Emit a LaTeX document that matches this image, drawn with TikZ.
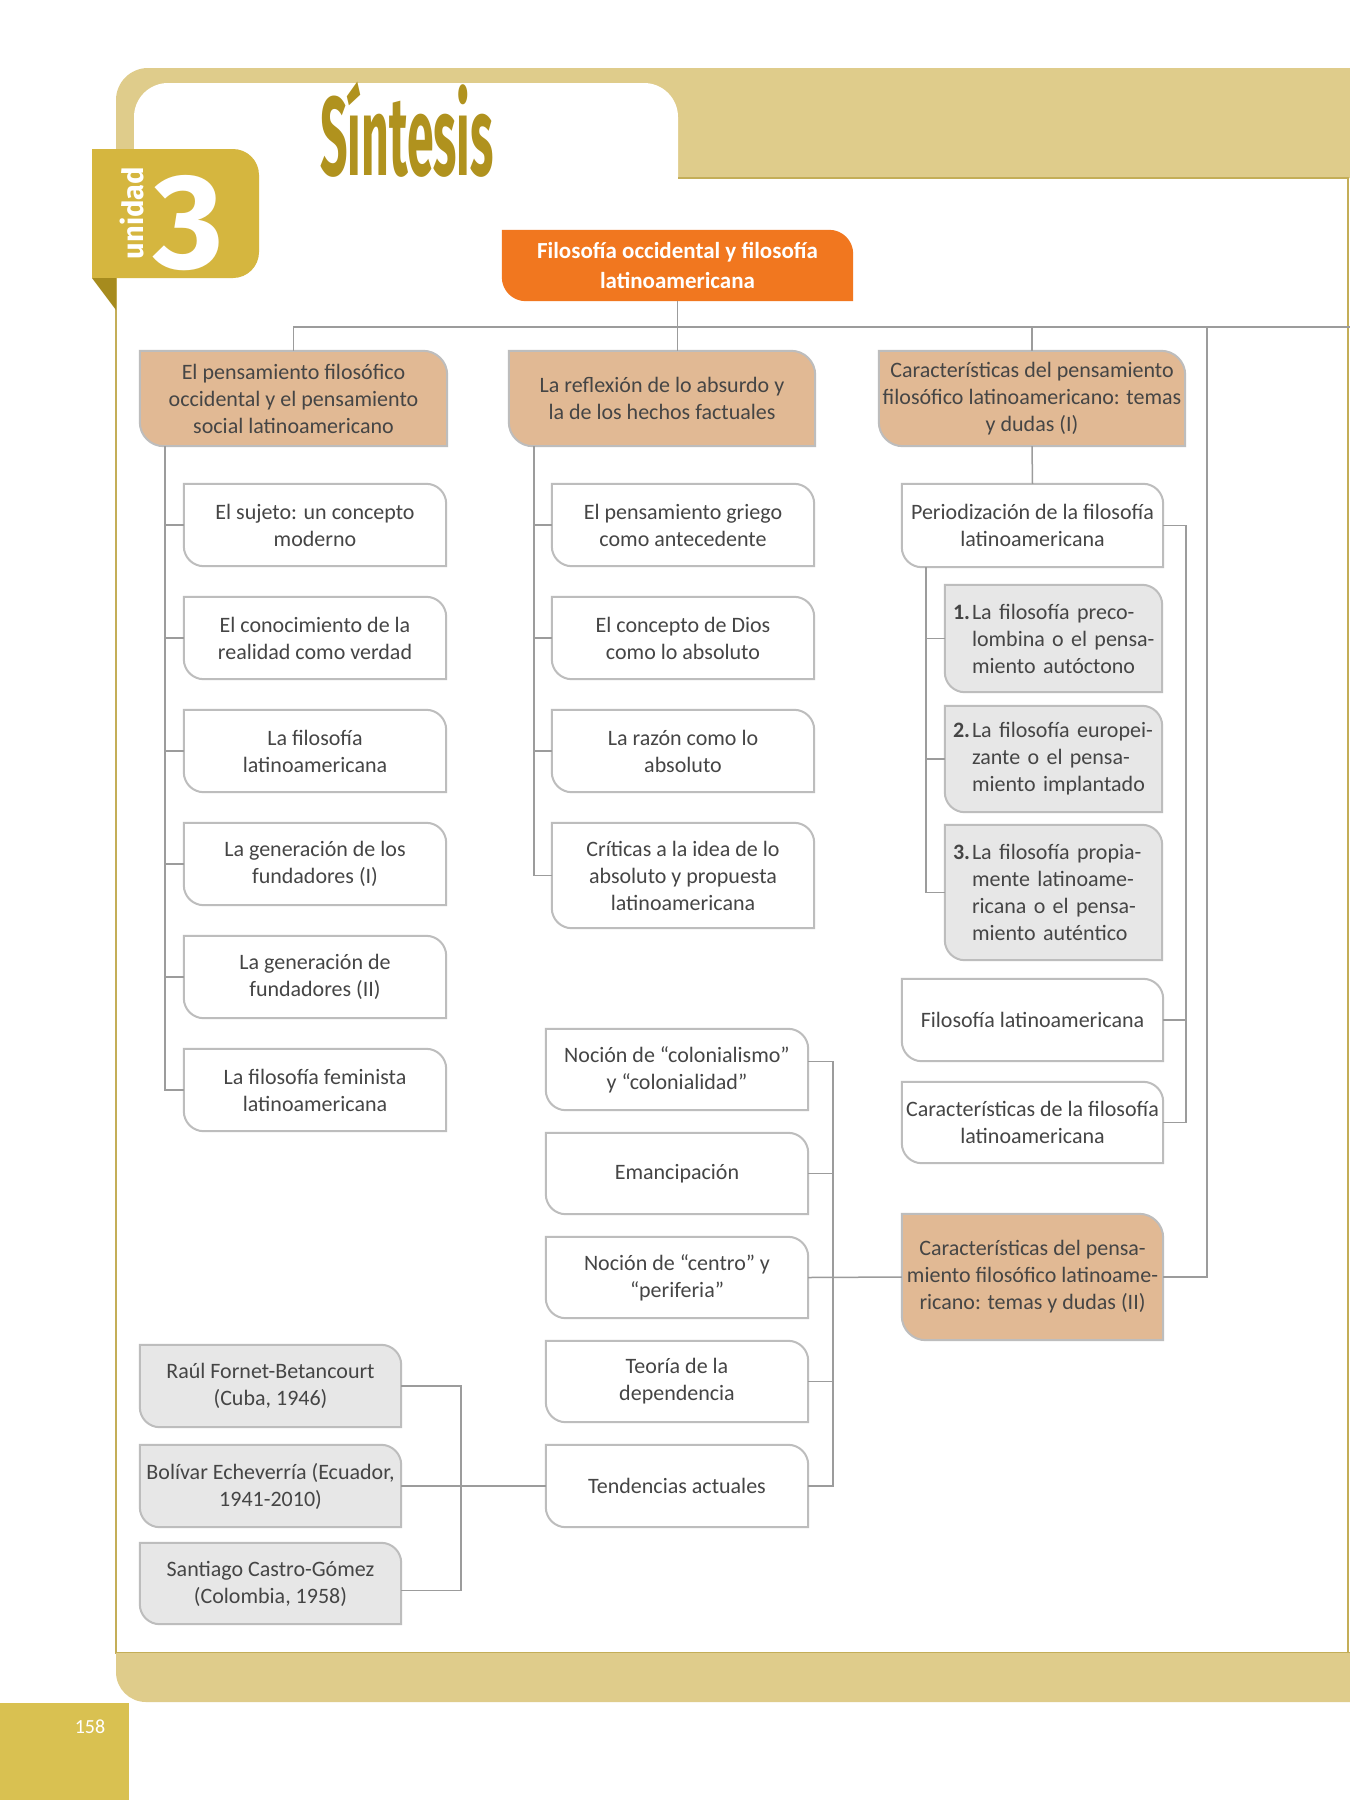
\documentclass[tikz,border=0pt]{standalone}
\usepackage{graphicx}
\usepackage{fontspec}
\setmainfont{Carlito}
\newfontfamily\titlefont{Fira Sans}
\usetikzlibrary{calc}
\pgfdeclarelayer{bg}
\pgfsetlayers{bg,main}
\definecolor{band}{HTML}{DFCC8B}
\definecolor{badge}{HTML}{D5B63F}
\definecolor{fold}{HTML}{A68B1E}
\definecolor{titlecol}{HTML}{B0921E}
\definecolor{framecol}{HTML}{C4AE58}
\definecolor{pagebox}{HTML}{D9C151}
\definecolor{orangec}{HTML}{F1771F}
\definecolor{tanc}{HTML}{E1B994}
\definecolor{grayc}{HTML}{E7E7E7}
\definecolor{linec}{HTML}{9C9C9C}
\definecolor{borderc}{HTML}{BDBDBD}
\definecolor{txt}{HTML}{454545}
\newcommand\leafbox[3][20]{%
 \path[#3] (#2.north west) -- ($(#2.north east)+(-#1,0)$)
 .. controls ($(#2.north east)+({-0.448*#1},0)$) and ($(#2.north east)+(0,{0.448*#1})$) .. ($(#2.north east)+(0,#1)$)
 -- (#2.south east) -- ($(#2.south west)+(#1,0)$)
 .. controls ($(#2.south west)+({0.448*#1},0)$) and ($(#2.south west)+(0,{-0.448*#1})$) .. ($(#2.south west)+(0,-#1)$)
 -- cycle;}
\newcommand\numline[2]{\mbox{\makebox[19pt][l]{\textbf{#1}}#2}}
\newcommand\hangline[1]{\mbox{\hspace*{19pt}#1}}
\begin{document}
\begin{tikzpicture}[x=1pt,y=-1pt,
 conn/.style={draw=linec, line width=1.5pt},
 every node/.style={text=txt, font=\fontsize{22}{27}\selectfont, inner sep=0pt, align=center},
 span/.style n args={4}{minimum width={(#3)-(#1)}, minimum height={(#4)-(#2)}, at={({((#1)+(#3))/2},{((#2)+(#4))/2})}},
 wshape/.style={fill=white, draw=borderc, line width=2pt},
 tshape/.style={fill=tanc, draw=borderc, line width=2pt},
 gshape/.style={fill=grayc, draw=borderc, line width=2pt},
 oshape/.style={fill=orangec},
 frameline/.style={draw=framecol, line width=1.5pt},
 numitem/.style={align=left, text width=201pt, inner xsep=8pt}]
\useasboundingbox (0,0) rectangle (1350,1800);
% ---------- page frame ----------
\begin{pgfonlayer}{bg}
\fill[white] (0,0) rectangle (1350,1800);
\fill[band, rounded corners=32] (116,240) -- (116,68) -- (1400,68) -- (1400,178) -- (134,178) -- (134,240);
\fill[white, rounded corners=34] (134,240) -- (134,83) -- (678,83) -- (678,240);
\draw[frameline] (678,178) -- (1348,178) -- (1348,1653);
\draw[frameline] (116,278) -- (116,1653) -- (1350,1653);
\fill[band, rounded corners=30] (116,1653) -- (116,1702) -- (1400,1702) -- (1400,1653);
\fill[badge, rounded corners=26] (92,149) -- (259,149) -- (259,278) -- (92,278);
\fill[fold] (92,278) -- (116,278) -- (116,310) -- cycle;
\fill[pagebox] (0,1703) rectangle (129,1800);
\end{pgfonlayer}
% ---------- titles ----------
\node[text=titlecol, font=\titlefont\bfseries\fontsize{112}{112}\selectfont, anchor=base] (title) at (407,175) {\scalebox{0.43}[1]{Síntesis}};
\node[text=white, font=\titlefont\bfseries\fontsize{135}{135}\selectfont, anchor=base] (num) at (189,268) {3};
\node[text=white, font=\titlefont\bfseries\fontsize{29}{29}\selectfont, rotate=90] (unidad) at (132,213) {unidad};
\node[text=white, font=\fontsize{20}{20}\selectfont] (pg) at (90,1727) {158};
% ---------- nodes ----------
\node[span={502}{230}{853}{301}, text=white, font=\bfseries\fontsize{23}{30}\selectfont] (orange) {Filosofía occidental y filosofía\\latinoamericana};
\node[span={140}{351}{447}{446}] (hdr1) {El pensamiento filosófico\\occidental y el pensamiento\\social latinoamericano};
\node[span={509}{351}{815}{446}] (hdr2) {La reflexión de lo absurdo y\\la de los hechos factuales};
\node[span={879}{351}{1185}{446}] (hdr3) {Características del pensamiento\\filosófico latinoamericano: temas\\y dudas (I)};
\node[span={902}{1214}{1163}{1340}] (hdr4) {Características del pensa-\\miento filosófico latinoame-\\ricano: temas y dudas (II)};
\node[span={184}{484}{446}{566}] (c1a) {El sujeto: un concepto\\moderno};
\node[span={184}{597}{446}{679}] (c1b) {El conocimiento de la\\realidad como verdad};
\node[span={184}{710}{446}{792}] (c1c) {La filosofía\\latinoamericana};
\node[span={184}{823}{446}{905}] (c1d) {La generación de los\\fundadores (I)};
\node[span={184}{936}{446}{1018}] (c1e) {La generación de\\fundadores (II)};
\node[span={184}{1049}{446}{1131}] (c1f) {La filosofía feminista\\latinoamericana};
\node[span={552}{484}{814}{566}] (c2a) {El pensamiento griego\\como antecedente};
\node[span={552}{597}{814}{679}] (c2b) {El concepto de Dios\\como lo absoluto};
\node[span={552}{710}{814}{792}] (c2c) {La razón como lo\\absoluto};
\node[span={552}{823}{814}{928}] (c2d) {Críticas a la idea de lo\\absoluto y propuesta\\latinoamericana};
\node[span={902}{484}{1163}{567}] (per) {Periodización de la filosofía\\latinoamericana};
\node[span={945}{585}{1162}{692}, numitem] (p1) {\numline{1.}{La filosofía preco-}\\\hangline{lombina o el pensa-}\\\hangline{miento autóctono}};
\node[span={945}{706}{1162}{812}, numitem] (p2) {\numline{2.}{La filosofía europei-}\\\hangline{zante o el pensa-}\\\hangline{miento implantado}};
\node[span={945}{825}{1162}{960}, numitem] (p3) {\numline{3.}{La filosofía propia-}\\\hangline{mente latinoame-}\\\hangline{ricana o el pensa-}\\\hangline{miento auténtico}};
\node[span={902}{979}{1163}{1061}] (fl) {Filosofía latinoamericana};
\node[span={902}{1082}{1163}{1163}] (cf) {Características de la filosofía\\latinoamericana};
\node[span={546}{1029}{808}{1110}] (m1) {Noción de “colonialismo”\\y “colonialidad”};
\node[span={546}{1133}{808}{1214}] (m2) {Emancipación};
\node[span={546}{1237}{808}{1318}] (m3) {Noción de “centro” y\\“periferia”};
\node[span={546}{1341}{808}{1422}] (m4) {Teoría de la\\dependencia};
\node[span={546}{1445}{808}{1527}] (m5) {Tendencias actuales};
\node[span={140}{1345}{401}{1427}] (g1) {Raúl Fornet-Betancourt\\(Cuba, 1946)};
\node[span={140}{1445}{401}{1527}] (g2) {Bolívar Echeverría (Ecuador,\\1941-2010)};
\node[span={140}{1543}{401}{1624}] (g3) {Santiago Castro-Gómez\\(Colombia, 1958)};
% ---------- box shapes ----------
\begin{pgfonlayer}{bg}
\leafbox[24]{orange}{oshape}
\foreach \n in {hdr1,hdr2,hdr3,hdr4} {\leafbox[24]{\n}{tshape}}
\foreach \n in {c1a,c1b,c1c,c1d,c1e,c1f,c2a,c2b,c2c,c2d,per,fl,cf,m1,m2,m3,m4,m5} {\leafbox{\n}{wshape}}
\foreach \n in {p1,p2,p3,g1,g2,g3} {\leafbox{\n}{gshape}}
\end{pgfonlayer}
% ---------- connectors ----------
\coordinate (busR) at (1350,327);
\coordinate (v4) at (1207,327);
\coordinate (v1) at (165,0);
\coordinate (v2) at (534,0);
\coordinate (v3) at (926,0);
\coordinate (v3r) at (1186,0);
\coordinate (v5) at (833,0);
\coordinate (v6) at (461,0);
\draw[conn] (hdr1.north) |- (busR);
\draw[conn] (orange.south) -- (orange.south |- hdr2.north);
\draw[conn] (hdr3.north) -- (hdr3.north |- busR);
\draw[conn] (v4) |- (hdr4.east);
\draw[conn] (hdr1.south -| v1) |- (c1f.west);
\foreach \n in {c1a,c1b,c1c,c1d,c1e} {\draw[conn] (\n.west) -- (\n.west -| v1);}
\draw[conn] (hdr2.south -| v2) |- (c2d.west);
\foreach \n in {c2a,c2b,c2c} {\draw[conn] (\n.west) -- (\n.west -| v2);}
\draw[conn] (hdr3.south) -- (per.north);
\draw[conn] (per.south -| v3) |- (p3.west);
\foreach \n in {p1,p2} {\draw[conn] (\n.west) -- (\n.west -| v3);}
\draw[conn] (per.east) -| (cf.east -| v3r) -- (cf.east);
\draw[conn] (fl.east) -- (fl.east -| v3r);
\draw[conn] ([yshift=8pt]m1.east) -| (m5.east -| v5) -- (m5.east);
\foreach \n in {m2,m4} {\draw[conn] (\n.east) -- (\n.east -| v5);}
\draw[conn] (m3.east) -- (hdr4.west);
\draw[conn] (g1.east) -| ([yshift=-7pt]g3.east -| v6) -- ([yshift=-7pt]g3.east);
\draw[conn] (g2.east) -- (m5.west);
\end{tikzpicture}
\end{document}
